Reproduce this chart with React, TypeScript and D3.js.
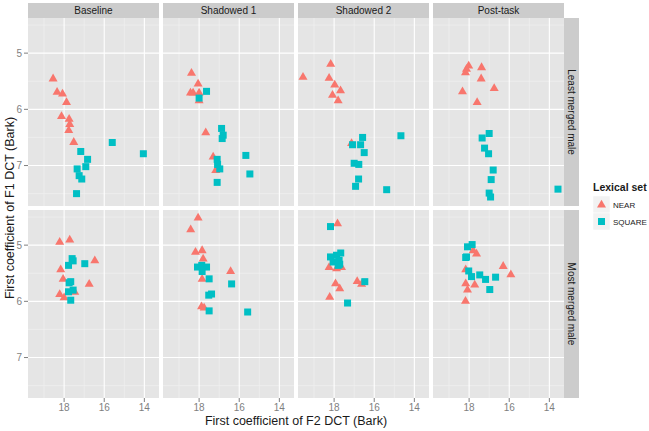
import React from "react";
import * as d3 from "d3";

const conditions = ["Baseline", "Shadowed 1", "Shadowed 2", "Post-task"];
const speakers = ["Least merged male", "Most merged male"];
const lexicalSets = ["NEAR", "SQUARE"];
const xTicks = [18, 16, 14];
const yTicks = [5, 6, 7];

// [f2, f1] pairs per speaker row, per condition
const nearLeast: number[][][] = [
  [[18.55,5.45],[18.35,5.69],[18.08,5.72],[17.88,5.87],[18.13,6.12],[17.75,6.17],[17.72,6.26],[17.77,6.37],[17.52,6.58]],
  [[18.38,5.35],[18.05,5.54],[18.43,5.70],[18.3,5.70],[18.0,5.70],[18.0,5.84],[17.67,6.41],[17.3,6.84],[17.17,7.08]],
  [[19.55,5.42],[18.17,5.19],[18.25,5.44],[17.97,5.56],[17.68,5.66],[18.08,5.74],[17.8,5.84],[17.13,6.60]],
  [[18.02,5.22],[18.13,5.28],[18.18,5.34],[17.38,5.25],[17.4,5.45],[16.75,5.62],[18.33,5.68],[17.6,5.87]],
];
const squareLeast: number[][][] = [
  [[17.17,6.75],[16.83,6.89],[16.92,7.02],[17.35,7.06],[17.25,7.18],[17.12,7.24],[17.38,7.50],[15.6,6.59],[14.05,6.79]],
  [[17.63,5.68],[18.0,5.80],[16.88,6.34],[16.8,6.46],[16.85,6.52],[17.1,6.89],[17.08,6.98],[16.97,7.06],[17.1,7.30],[15.67,6.82],[15.47,7.15]],
  [[16.58,6.50],[16.68,6.63],[17.08,6.63],[16.5,6.77],[17.0,6.96],[16.77,6.98],[16.78,7.24],[16.93,7.37],[15.38,7.43],[14.67,6.47]],
  [[17.0,6.43],[17.35,6.51],[17.23,6.69],[17.03,6.79],[16.8,7.08],[16.9,7.25],[17.0,7.49],[16.93,7.56],[13.57,7.42]],
];
const nearMost: number[][][] = [
  [[18.22,4.94],[17.72,4.90],[18.17,5.43],[18.05,5.60],[18.22,5.87],[18.0,5.93],[17.47,5.83],[16.47,5.27],[16.75,5.69]],
  [[18.05,4.51],[18.42,4.72],[18.18,5.12],[17.85,5.09],[17.8,5.24],[17.85,5.60],[16.43,5.46],[17.88,6.09],[17.75,6.11]],
  [[17.83,4.61],[18.25,5.39],[17.88,5.41],[17.63,5.39],[17.93,5.68],[17.72,5.77],[16.85,5.64],[16.63,5.69],[18.22,5.92]],
  [[17.8,5.09],[17.63,5.15],[18.17,5.43],[18.17,5.68],[18.08,5.79],[17.72,5.70],[18.18,5.99],[16.3,5.37],[15.92,5.52]],
];
const squareMost: number[][][] = [
  [[17.6,5.24],[17.55,5.28],[17.78,5.36],[16.97,5.33],[17.67,5.65],[17.75,5.67],[17.55,5.80],[17.78,5.83],[17.67,5.98]],
  [[18.08,5.39],[17.87,5.36],[17.63,5.39],[17.85,5.47],[17.5,5.60],[17.52,5.89],[17.38,5.87],[17.5,6.17],[15.58,6.19],[16.38,5.69]],
  [[18.18,4.67],[18.18,5.21],[17.67,5.14],[17.88,5.18],[17.75,5.27],[18.05,5.30],[17.72,5.34],[17.8,5.36],[16.47,5.65],[17.33,6.03]],
  [[18.08,5.03],[17.85,4.99],[18.17,5.22],[18.13,5.21],[18.02,5.46],[17.88,5.56],[17.47,5.53],[17.18,5.61],[16.68,5.57],[16.97,5.79]],
];

const colors = ["#F8766D", "#00BFC4"];
const FONT = "'Liberation Sans', Arial, Helvetica, sans-serif";

const W = 649, H = 431;
const panelLeft0 = 28, panelW = 131, gap = 4;
const rowTops = [18, 210];
const panelH = 188;

function Triangle({ x, y, fill }: { x: number; y: number; fill: string }) {
  const s = 9;
  const h = s * Math.sqrt(3) / 2;
  const p = `M${x},${y - h * 0.62} L${x + s / 2},${y + h * 0.38} L${x - s / 2},${y + h * 0.38} Z`;
  return <path d={p} fill={fill} />;
}
function Square({ x, y, fill }: { x: number; y: number; fill: string }) {
  const s = 7;
  return <rect x={x - s / 2} y={y - s / 2} width={s} height={s} fill={fill} />;
}

export default function App() {
  const x = d3.scaleLinear().domain([19.8, 13.27]).range([0, panelW]);
  const y = d3.scaleLinear().domain([4.375, 7.72]).range([0, panelH]);
  const xMinor = [19, 17, 15, 13.5].filter((v) => v <= 19.8 && v >= 13.27);
  const xMinorVals = [19, 17, 15];
  const yMinor = [4.5, 5.5, 6.5, 7.5];
  const rows = [
    [nearLeast, squareLeast],
    [nearMost, squareMost],
  ];
  void xMinor;
  return (
    <svg width={W} height={H} style={{ position: "absolute", left: 0, top: 0, fontFamily: FONT }}>
      <rect width={W} height={H} fill="#ffffff" />
      {/* strips top */}
      {conditions.map((c, i) => {
        const px = panelLeft0 + i * (panelW + gap);
        return (
          <g key={c}>
            <rect x={px} y={3} width={panelW} height={15} fill="#CCCCCC" />
            <text x={px + panelW / 2} y={14} textAnchor="middle" fontSize={10} fill="#1a1a1a">{c}</text>
          </g>
        );
      })}
      {rows.map((row, ri) => {
        const top = rowTops[ri];
        const sx = panelLeft0 + 4 * panelW + 3 * gap;
        return (
          <g key={ri}>
            {/* right strip */}
            <rect x={sx} y={top} width={15} height={panelH} fill="#CCCCCC" />
            <text transform={`translate(${sx + 4},${top + panelH / 2}) rotate(90)`} textAnchor="middle" fontSize={10} fill="#1a1a1a">{speakers[ri]}</text>
            {/* y ticks */}
            {yTicks.map((t) => (
              <g key={t}>
                <line x1={panelLeft0 - 4} x2={panelLeft0} y1={top + y(t)} y2={top + y(t)} stroke="#7f7f7f" />
                <text x={panelLeft0 - 6} y={top + y(t) + 3.5} textAnchor="end" fontSize={10} fill="#7f7f7f">{t}</text>
              </g>
            ))}
            {conditions.map((c, ci) => {
              const left = panelLeft0 + ci * (panelW + gap);
              return (
                <g key={c} transform={`translate(${left},${top})`}>
                  <rect width={panelW} height={panelH} fill="#E5E5E5" />
                  {xMinorVals.map((v) => (
                    <line key={"xm" + v} x1={x(v)} x2={x(v)} y1={0} y2={panelH} stroke="#F2F2F2" strokeWidth={0.6} />
                  ))}
                  {yMinor.map((v) => (
                    <line key={"ym" + v} x1={0} x2={panelW} y1={y(v)} y2={y(v)} stroke="#F2F2F2" strokeWidth={0.6} />
                  ))}
                  {xTicks.map((v) => (
                    <line key={"xM" + v} x1={x(v)} x2={x(v)} y1={0} y2={panelH} stroke="#ffffff" strokeWidth={1.1} />
                  ))}
                  {yTicks.map((v) => (
                    <line key={"yM" + v} x1={0} x2={panelW} y1={y(v)} y2={y(v)} stroke="#ffffff" strokeWidth={1.1} />
                  ))}
                  {row[0][ci].map((d, k) => (
                    <Triangle key={"n" + k} x={x(d[0])} y={y(d[1])} fill={colors[0]} />
                  ))}
                  {row[1][ci].map((d, k) => (
                    <Square key={"s" + k} x={x(d[0])} y={y(d[1])} fill={colors[1]} />
                  ))}
                  {ri === 1 &&
                    xTicks.map((v) => (
                      <g key={"xt" + v}>
                        <line x1={x(v)} x2={x(v)} y1={panelH} y2={panelH + 4} stroke="#7f7f7f" />
                        <text x={x(v)} y={panelH + 13} textAnchor="middle" fontSize={10} fill="#7f7f7f">{v}</text>
                      </g>
                    ))}
                </g>
              );
            })}
          </g>
        );
      })}
      {/* axis titles */}
      <text x={296} y={425} textAnchor="middle" fontSize={12.5} fill="#1a1a1a">First coefficient of F2 DCT (Bark)</text>
      <text transform={`translate(14,208) rotate(-90)`} textAnchor="middle" fontSize={12.5} fill="#1a1a1a">First coefficient of F1 DCT (Bark)</text>
      {/* legend */}
      <text x={593} y={191} fontSize={10.5} fontWeight="bold" fill="#1a1a1a">Lexical set</text>
      {lexicalSets.map((s, i) => {
        const ky = 196 + i * 17;
        return (
          <g key={s}>
            <rect x={593} y={ky} width={17} height={17} fill="#F2F2F2" stroke="#ffffff" strokeWidth={0.5} />
            {i === 0 ? (
              <Triangle x={601.5} y={ky + 8.5} fill={colors[0]} />
            ) : (
              <Square x={601.5} y={ky + 8.5} fill={colors[1]} />
            )}
            <text x={613} y={ky + 11.5} fontSize={8} fill="#1a1a1a">{s}</text>
          </g>
        );
      })}
    </svg>
  );
}
